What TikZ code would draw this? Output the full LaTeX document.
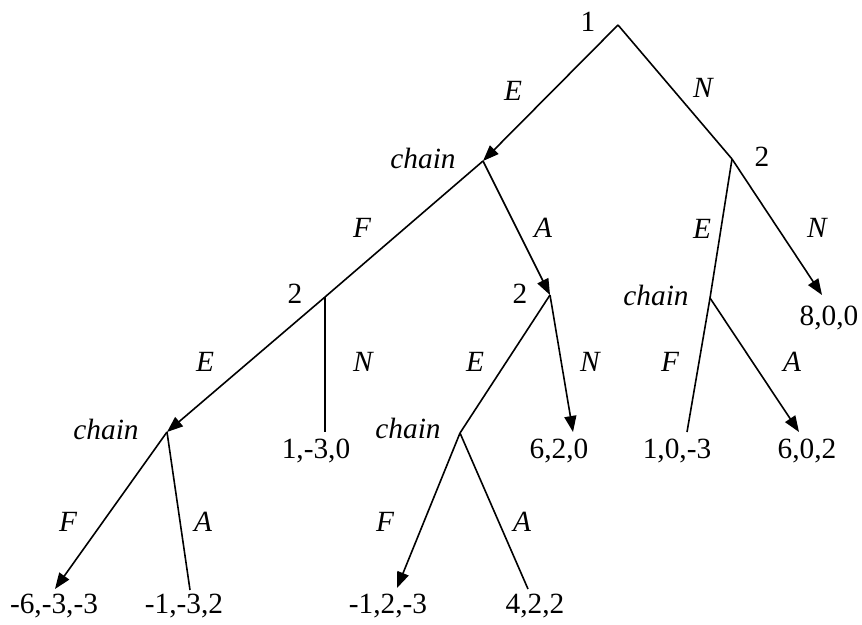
\documentclass[tikz,border=0pt]{standalone}
\usepackage{fontspec}
\setmainfont{Liberation Serif}
\usetikzlibrary{arrows.meta}

\begin{document}
\begin{tikzpicture}[
	x=0.75pt, y=-0.75pt,
	every node/.style={ font=\fontsize{22}{26}\selectfont, inner sep=0pt },
	move/.style={ line width=1.2pt },
	chosen/.style={ line width=1.2pt, -{Triangle[length=12pt,width=9pt]} },
	act/.style={ font=\fontsize{22}{26}\selectfont\itshape },
	pay/.style={ anchor=base }
]
\useasboundingbox (0,0) rectangle (862,624);

% decision points
\coordinate (root) at (618,25);
\coordinate (c1) at (483,161);
\coordinate (p2r) at (732,159);
\coordinate (p2l) at (325,297);
\coordinate (p2m) at (550,295);
\coordinate (c2r) at (710,298);
\coordinate (c3l) at (167,432);
\coordinate (c3m) at (460,433);

% ends of the moves
\coordinate (l1) at (55,589);
\coordinate (l2) at (190,590);
\coordinate (l3) at (325,432);
\coordinate (l4) at (397,588);
\coordinate (l5) at (528,589);
\coordinate (l6) at (573,432);
\coordinate (l7) at (687,432);
\coordinate (l8) at (799,432);
\coordinate (l9) at (822,295);

% players
\node at (588,22) (n1) {1};
\node at (295,294) (n2l) {2};
\node at (520,294) (n2m) {2};
\node at (762,157) (n2r) {2};
\node at (423,158) (ch1) [act] {chain};
\node at (656,295) (ch2) [act] {chain};
\node at (106,429) (ch3) [act] {chain};
\node at (408,428) (ch4) [act] {chain};

% moves
\draw[chosen] (root) to (c1);
\draw[move] (root) to (p2r);
\draw[move] (c1) to (p2l);
\draw[chosen] (c1) to (p2m);
\draw[chosen] (p2l) to (c3l);
\draw[move] (p2l) to (l3);
\draw[chosen] (c3l) to (l1);
\draw[move] (c3l) to (l2);
\draw[move] (p2m) to (c3m);
\draw[chosen] (p2m) to (l6);
\draw[chosen] (c3m) to (l4);
\draw[move] (c3m) to (l5);
\draw[move] (p2r) to (c2r);
\draw[chosen] (p2r) to (l9);
\draw[move] (c2r) to (l7);
\draw[chosen] (c2r) to (l8);

% move labels
\node at (513,91) (a1) [act] {E};
\node at (703,88) (a2) [act] {N};
\node at (362,228) (a3) [act] {F};
\node at (543,228) (a4) [act] {A};
\node at (702,229) (a5) [act] {E};
\node at (817,228) (a6) [act] {N};
\node at (205,362) (a7) [act] {E};
\node at (363,362) (a8) [act] {N};
\node at (475,362) (a9) [act] {E};
\node at (590,362) (a10) [act] {N};
\node at (670,362) (a11) [act] {F};
\node at (792,362) (a12) [act] {A};
\node at (68,522) (a13) [act] {F};
\node at (203,522) (a14) [act] {A};
\node at (385,522) (a15) [act] {F};
\node at (522,522) (a16) [act] {A};

% payoffs
\node at (54,613) (u1) [pay] {-6,-3,-3};
\node at (184,613) (u2) [pay] {-1,-3,2};
\node at (316,458) (u3) [pay] {1,-3,0};
\node at (388,613) (u4) [pay] {-1,2,-3};
\node at (535,613) (u5) [pay] {4,2,2};
\node at (559,458) (u6) [pay] {6,2,0};
\node at (677,458) (u7) [pay] {1,0,-3};
\node at (807,458) (u8) [pay] {6,0,2};
\node at (829,325) (u9) [pay] {8,0,0};

\end{tikzpicture}
\end{document}
